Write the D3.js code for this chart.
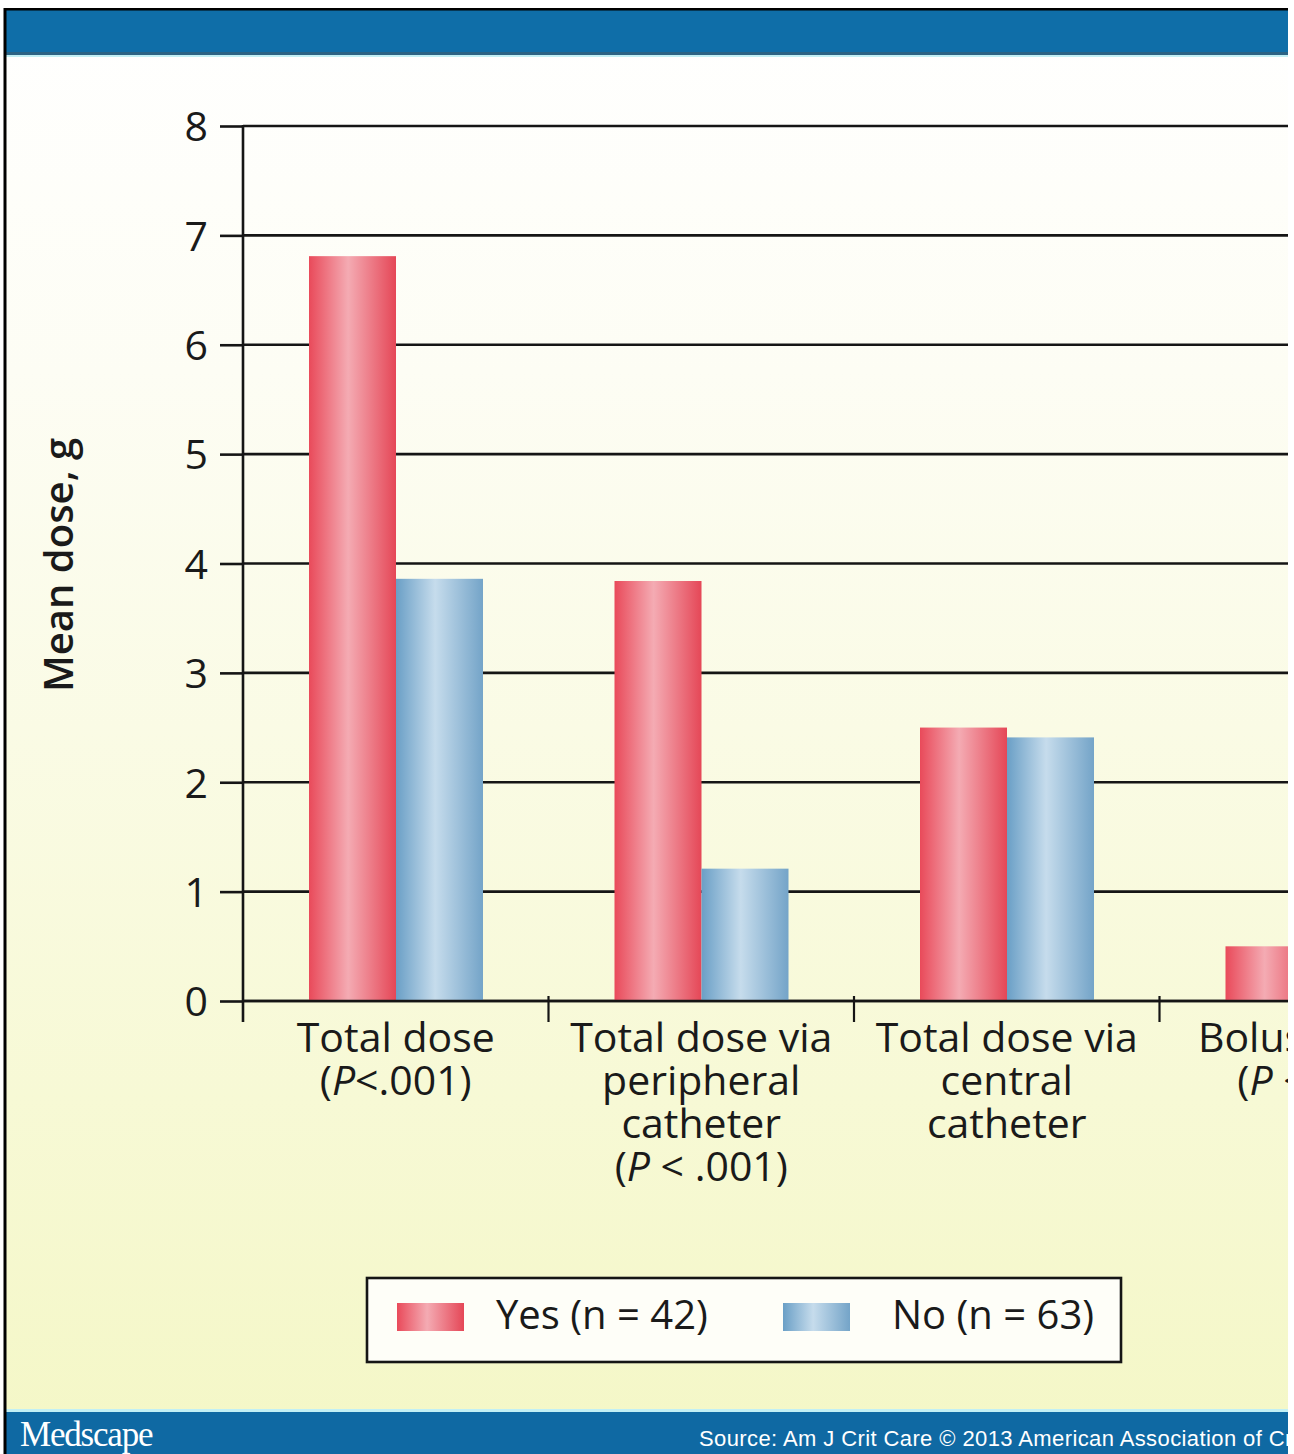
<!DOCTYPE html>
<html><head><meta charset="utf-8">
<script src="https://cdn.jsdelivr.net/npm/d3@7"></script>
<style>body{margin:0;background:#fff}svg{display:block}</style>
</head><body><div id="chart"></div>
<script>
// ---- data ----
const categories = ["Total dose", "Total dose via peripheral catheter", "Total dose via central catheter", "Bolus doses"];
const categoryLines = [
  ["Total dose", "(P<.001)"],
  ["Total dose via", "peripheral", "catheter", "(P < .001)"],
  ["Total dose via", "central", "catheter"],
  ["Bolus doses", "(P < .01)"]
];
const seriesKeys = ["yes", "no"];
const seriesLabels = ["Yes (n=42)", "No (n=63)"];
const yesValues = [6.81, 3.84, 2.50, 0.50];
const noValues = [3.86, 1.21, 2.41, 0.30];
const yTickValues = [0, 1, 2, 3, 4, 5, 6, 7, 8];
const yTitle = "Mean dose, g";
const brandText = "Medscape";
const sourceText = "Source: Am J Crit Care \u00A9 2013 American Association of Critical-Care Nurses";

// ---- layout ----
const W = 1294, H = 1454;
const contentRight = 1288;
const plot = {left: 243, top: 126, bottom: 1001};
const band = 305.5;
const font = "'Open Sans', 'Noto Sans', sans-serif";

const svg = d3.select("#chart").append("svg").attr("width", W).attr("height", H);
const defs = svg.append("defs");

const bg = defs.append("linearGradient").attr("id", "bg").attr("x1", 0).attr("x2", 0).attr("y1", 0).attr("y2", 1);
bg.append("stop").attr("offset", "0%").attr("stop-color", "#ffffff");
bg.append("stop").attr("offset", "25%").attr("stop-color", "#fdfdf4");
bg.append("stop").attr("offset", "100%").attr("stop-color", "#f4f7c6");

function barGrad(id, edgeL, mid, edgeR) {
  const g = defs.append("linearGradient").attr("id", id).attr("x1", 0).attr("x2", 1).attr("y1", 0).attr("y2", 0);
  g.append("stop").attr("offset", "0%").attr("stop-color", edgeL);
  g.append("stop").attr("offset", "45%").attr("stop-color", mid);
  g.append("stop").attr("offset", "100%").attr("stop-color", edgeR);
}
barGrad("g-yes", "#e94a5a", "#f4abb3", "#e54757");
barGrad("g-no", "#6a9fc6", "#c6dcec", "#74a4c8");
const fills = {yes: "url(#g-yes)", no: "url(#g-no)"};

defs.append("clipPath").attr("id", "clip").append("rect").attr("x", 0).attr("y", 0).attr("width", contentRight).attr("height", H);

const root = svg.append("g").attr("clip-path", "url(#clip)");

// background
root.append("rect").attr("x", 6).attr("y", 10).attr("width", contentRight - 6).attr("height", H - 10).attr("fill", "url(#bg)");

// top banner
root.append("rect").attr("x", 6).attr("y", 10).attr("width", contentRight).attr("height", 44).attr("fill", "#0f6ea8");
root.append("rect").attr("x", 6).attr("y", 52).attr("width", contentRight).attr("height", 3).attr("fill", "#2c6384");
root.append("rect").attr("x", 6).attr("y", 55).attr("width", contentRight).attr("height", 2).attr("fill", "#c2f0f5");

// bottom banner
root.append("rect").attr("x", 6).attr("y", 1409).attr("width", contentRight).attr("height", 3).attr("fill", "#c2f0f5");
root.append("rect").attr("x", 6).attr("y", 1412).attr("width", contentRight).attr("height", H - 1412).attr("fill", "#0f69a3");
root.append("text").attr("x", 20).attr("y", 1446).text(brandText)
  .attr("font-family", "'Liberation Serif', serif").attr("font-size", 35).attr("letter-spacing", -1.2)
  .attr("fill", "#fff");
root.append("text").attr("x", 699).attr("y", 1446).text(sourceText)
  .attr("font-family", "'Liberation Sans', Arial, sans-serif").attr("font-size", 22)
  .attr("letter-spacing", 0.4).attr("fill", "#fff");

// black frame (top and left)
root.append("rect").attr("x", 4).attr("y", 8).attr("width", contentRight).attr("height", 2.5).attr("fill", "#000");
root.append("rect").attr("x", 3.5).attr("y", 8).attr("width", 3).attr("height", H).attr("fill", "#000");

// ---- scales ----
const x0 = d3.scaleBand().domain(categories).range([plot.left, plot.left + band * categories.length]).padding(0);
const x1 = d3.scaleBand().domain(seriesKeys).range([66, 240]).padding(0);
const y = d3.scaleLinear().domain([0, 8]).range([plot.bottom, plot.top]);

const chart = root.append("g");

// gridlines
chart.append("g").selectAll("line").data(yTickValues).join("line")
  .attr("x1", plot.left).attr("x2", contentRight)
  .attr("y1", d => y(d)).attr("y2", d => y(d))
  .attr("stroke", "#151515").attr("stroke-width", 2.6);

// y axis with ticks & labels
const yAxis = chart.append("g").attr("transform", `translate(${plot.left},0)`)
  .call(d3.axisLeft(y).tickValues(yTickValues).tickFormat(d3.format("d")).tickSize(23).tickPadding(12));
yAxis.select(".domain").remove();
yAxis.selectAll(".tick line").attr("stroke", "#151515").attr("stroke-width", 2.6);
yAxis.selectAll(".tick text").attr("font-family", font).attr("font-size", 41).attr("fill", "#1a1a1a").attr("dy", "0.36em");

// bars
const rows = categories.map((c, i) => ({cat: c, yes: yesValues[i], no: noValues[i]}));
const groups = chart.append("g").selectAll("g").data(rows).join("g")
  .attr("transform", d => `translate(${x0(d.cat)},0)`);
groups.selectAll("rect").data(d => seriesKeys.map(k => ({key: k, value: d[k]}))).join("rect")
  .attr("x", d => x1(d.key)).attr("width", x1.bandwidth())
  .attr("y", d => y(d.value)).attr("height", d => y(0) - y(d.value))
  .attr("fill", d => fills[d.key]);

// zero line redraw and vertical axis line
chart.append("line").attr("x1", plot.left).attr("x2", contentRight).attr("y1", y(0)).attr("y2", y(0))
  .attr("stroke", "#151515").attr("stroke-width", 2.6);
chart.append("line").attr("x1", plot.left).attr("x2", plot.left).attr("y1", y(8) - 1).attr("y2", y(0) + 21)
  .attr("stroke", "#151515").attr("stroke-width", 2.6);

// category separator ticks
chart.append("g").selectAll("line").data(categories.slice(1)).join("line")
  .attr("x1", d => x0(d)).attr("x2", d => x0(d))
  .attr("y1", y(0) - 5).attr("y2", y(0) + 21)
  .attr("stroke", "#151515").attr("stroke-width", 2.2);

// category labels
const labels = chart.append("g").selectAll("text").data(categories).join("text")
  .attr("x", d => x0(d) + x0.bandwidth() / 2)
  .attr("text-anchor", "middle")
  .attr("font-family", font).attr("font-size", 41).attr("fill", "#1a1a1a");
labels.each(function (d, i) {
  const t = d3.select(this);
  categoryLines[i].forEach((line, j) => {
    const yy = 1052 + j * 43;
    if (line.startsWith("(P")) {
      const ts = t.append("tspan").attr("x", x0(d) + x0.bandwidth() / 2).attr("y", yy);
      ts.append("tspan").text("(");
      ts.append("tspan").attr("font-style", "italic").text("P");
      ts.append("tspan").text(line.slice(2));
    } else {
      t.append("tspan").attr("x", x0(d) + x0.bandwidth() / 2).attr("y", yy).text(line);
    }
  });
});

// y title
chart.append("text").attr("transform", `translate(73,565) rotate(-90)`)
  .attr("text-anchor", "middle").attr("font-family", font).attr("font-weight", 600)
  .attr("font-size", 40).attr("fill", "#1a1a1a").text(yTitle);

// legend
const lg = root.append("g");
lg.append("rect").attr("x", 367).attr("y", 1278).attr("width", 754).attr("height", 84)
  .attr("fill", "#fefef8").attr("stroke", "#151515").attr("stroke-width", 2.6);
const legendX = [397, 783];
const legendTextX = [496, 892];
seriesKeys.forEach((k, i) => {
  lg.append("rect").attr("x", legendX[i]).attr("y", 1303).attr("width", 67).attr("height", 28).attr("fill", fills[k]);
  lg.append("text").attr("x", legendTextX[i]).attr("y", 1329).text(seriesLabels[i].replace("=", " = "))
    .attr("font-family", font).attr("font-size", 40).attr("fill", "#1a1a1a");
});
</script>
</body></html>
